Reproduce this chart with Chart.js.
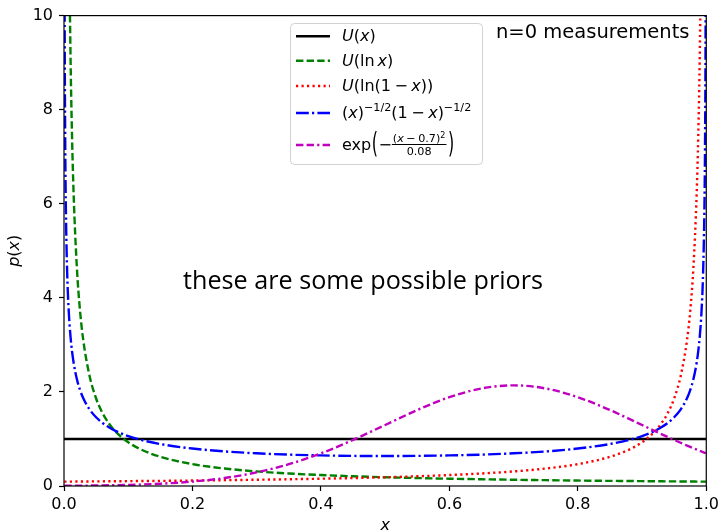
<!DOCTYPE html>
<html>
<head>
<meta charset="utf-8">
<script src="https://cdn.jsdelivr.net/npm/chart.js@4.4.1/dist/chart.umd.min.js"></script>
<style>
  html, body { margin: 0; padding: 0; background: #fff; }
  canvas { display: block; }
</style>
</head>
<body>
<canvas id="priorChart" width="723" height="531"></canvas>
<script>
// x positions shared by the curved priors (denser near the ends)
const xs = [0.0005, 0.001, 0.002, 0.003, 0.005, 0.0075, 0.01, 0.0125, 0.015, 0.02, 0.025, 0.03,
  0.04, 0.05, 0.06, 0.07, 0.08, 0.1, 0.12, 0.15, 0.2, 0.25, 0.3, 0.35, 0.4, 0.45, 0.5,
  0.55, 0.6, 0.65, 0.7, 0.75, 0.8, 0.85, 0.88, 0.9, 0.92, 0.93, 0.94, 0.95, 0.96, 0.97,
  0.975, 0.98, 0.985, 0.9875, 0.99, 0.9925, 0.995, 0.997, 0.998, 0.999, 0.9995];

const uniformX = [0, 1];
const uniformY = [1, 1];

const lnxY = [186, 93, 46.5, 31, 18.6, 12.4, 9.3, 7.44, 6.2, 4.65, 3.72, 3.1,
  2.33, 1.86, 1.55, 1.33, 1.16, 0.93, 0.775, 0.62, 0.465, 0.372, 0.31, 0.266, 0.233, 0.207, 0.186,
  0.169, 0.155, 0.143, 0.133, 0.124, 0.116, 0.109, 0.106, 0.103, 0.101, 0.1, 0.099, 0.098, 0.097, 0.096,
  0.095, 0.095, 0.094, 0.094, 0.094, 0.094, 0.093, 0.093, 0.093, 0.093, 0.093];

const ln1mxY = [0.093, 0.093, 0.093, 0.093, 0.093, 0.094, 0.094, 0.094, 0.094, 0.095, 0.095, 0.096,
  0.097, 0.098, 0.099, 0.1, 0.101, 0.103, 0.106, 0.109, 0.116, 0.124, 0.133, 0.143, 0.155, 0.169, 0.186,
  0.207, 0.233, 0.266, 0.31, 0.372, 0.465, 0.62, 0.775, 0.93, 1.16, 1.33, 1.55, 1.86, 2.33, 3.1,
  3.72, 4.65, 6.2, 7.44, 9.3, 12.4, 18.6, 31, 46.5, 93, 186];

const arcsineY = [14.24, 10.07, 7.125, 5.82, 4.513, 3.689, 3.199, 2.865, 2.619, 2.274, 2.039, 1.866,
  1.624, 1.461, 1.34, 1.248, 1.173, 1.061, 0.98, 0.892, 0.796, 0.735, 0.695, 0.667, 0.65, 0.64, 0.637,
  0.64, 0.65, 0.667, 0.695, 0.735, 0.796, 0.892, 0.98, 1.061, 1.173, 1.248, 1.34, 1.461, 1.624, 1.866,
  2.039, 2.274, 2.619, 2.865, 3.199, 3.689, 4.513, 5.82, 7.125, 10.07, 14.24];

const gaussY = [0.0047, 0.0048, 0.0049, 0.0049, 0.0051, 0.0053, 0.0056, 0.0058, 0.0061, 0.0066, 0.0072, 0.0078,
  0.0092, 0.0109, 0.0128, 0.015, 0.0175, 0.0238, 0.0319, 0.0487, 0.094, 0.17, 0.29, 0.463, 0.694, 0.979, 1.297,
  1.615, 1.888, 2.073, 2.139, 2.073, 1.888, 1.615, 1.427, 1.297, 1.168, 1.104, 1.041, 0.979, 0.919, 0.86,
  0.831, 0.803, 0.775, 0.761, 0.748, 0.734, 0.721, 0.71, 0.705, 0.7, 0.697];

const xTicks = [0, 0.2, 0.4, 0.6, 0.8, 1.0];
const yTicks = [0, 2, 4, 6, 8, 10];

const FONT = '"DejaVu Sans", sans-serif';
const MINUS = '\u2212';
const LW = 2.4;

function pts(xv, yv) {
  return xv.map((x, i) => ({ x: x, y: yv[i] }));
}

function fontOf(p) {
  return (p.it ? 'italic ' : '') + (p.size || 16) + 'px ' + FONT;
}

function runsWidth(ctx, parts) {
  let w = 0;
  for (const p of parts) {
    if (p.gap) { w += p.gap; continue; }
    ctx.font = fontOf(p);
    w += ctx.measureText(p.t).width;
  }
  return w;
}

function drawRuns(ctx, x, y, parts) {
  for (const p of parts) {
    if (p.gap) { x += p.gap; continue; }
    ctx.font = fontOf(p);
    ctx.fillText(p.t, x, y + (p.dy || 0));
    x += ctx.measureText(p.t).width;
  }
  return x;
}

// tall thin delimiter: a normal paren stretched vertically
function bigParen(ctx, ch, x, top) {
  ctx.save();
  ctx.font = '16px ' + FONT;
  const w = ctx.measureText(ch).width;
  ctx.translate(x, top);
  ctx.scale(1, 1.75);
  ctx.fillText(ch, 0, 12.15);
  ctx.restore();
  return x + w;
}

const sup = { t: MINUS + '1/2', size: 11.2, dy: -7 };

const legendRows = [
  { color: '#000000', dash: [], lineY: 36.3, base: 41,
    parts: [{ t: 'U', it: 1 }, { t: '(' }, { t: 'x', it: 1 }, { t: ')' }] },
  { color: '#008000', dash: [7.4, 3.2], lineY: 60.7, base: 65.5,
    parts: [{ t: 'U', it: 1 }, { t: '(ln' }, { gap: 3 }, { t: 'x', it: 1 }, { t: ')' }] },
  { color: '#ff0000', dash: [2.2, 3.3], lineY: 86, base: 90.5,
    parts: [{ t: 'U', it: 1 }, { t: '(ln(1' }, { gap: 3.5 }, { t: MINUS }, { gap: 3.5 }, { t: 'x', it: 1 }, { t: '))' }] },
  { color: '#0000ff', dash: [12.8, 3.2, 2.2, 3.2], lineY: 113, base: 118,
    parts: [{ t: '(' }, { t: 'x', it: 1 }, { t: ')' }, sup, { t: '(1' }, { gap: 3.5 }, { t: MINUS }, { gap: 3.5 },
      { t: 'x', it: 1 }, { t: ')' }, sup] },
  { color: '#bf00bf', dash: [7.4, 3.2, 7.4, 3.2, 2.2, 3.2], lineY: 145, base: 149.5, parts: null }
];

function drawGaussLabel(ctx, x, base) {
  x = drawRuns(ctx, x, base, [{ t: 'exp' }]);
  x = bigParen(ctx, '(', x + 0.5, 132);
  x = drawRuns(ctx, x + 0.5, base, [{ t: MINUS }]);
  const bar = base - 5;
  const num = [{ t: '(', size: 11.2 }, { t: 'x', it: 1, size: 11.2 }, { gap: 2.5 }, { t: MINUS, size: 11.2 }, { gap: 2.5 },
    { t: '0.7)', size: 11.2 }, { t: '2', size: 8, dy: -4 }];
  const den = [{ t: '0.08', size: 11.2 }];
  const nw = runsWidth(ctx, num), dw = runsWidth(ctx, den);
  const fw = Math.max(nw, dw) + 2;
  drawRuns(ctx, x + (fw - nw) / 2, bar - 3, num);
  drawRuns(ctx, x + (fw - dw) / 2, bar + 10.7, den);
  ctx.fillRect(x, bar - 0.5, fw, 1);
  bigParen(ctx, ')', x + fw + 1.5, 132);
}

const overlay = {
  id: 'overlay',
  afterDatasetsDraw(chart) {
    const ctx = chart.ctx, a = chart.chartArea;
    ctx.save();
    ctx.strokeStyle = '#000';
    ctx.lineWidth = 1.2;
    ctx.strokeRect(a.left, a.top, a.right - a.left, a.bottom - a.top);
    ctx.restore();
  },
  afterDraw(chart) {
    const ctx = chart.ctx, a = chart.chartArea;
    ctx.save();
    ctx.fillStyle = '#000';
    ctx.textBaseline = 'alphabetic';

    // axis titles
    const xt = [{ t: 'x', it: 1 }];
    drawRuns(ctx, (a.left + a.right) / 2 - runsWidth(ctx, xt) / 2, 529.5, xt);
    const yt = [{ t: 'p', it: 1 }, { t: '(' }, { t: 'x', it: 1 }, { t: ')' }];
    ctx.save();
    ctx.translate(19, (a.top + a.bottom) / 2);
    ctx.rotate(-Math.PI / 2);
    drawRuns(ctx, -runsWidth(ctx, yt) / 2, 0, yt);
    ctx.restore();

    // annotations
    ctx.font = '19.5px ' + FONT;
    ctx.fillText('n=0 measurements', 496, 38);
    const msg = 'these are some possible priors';
    ctx.font = '24px "Open Sans", sans-serif';
    const size = 24 * 360 / ctx.measureText(msg).width;
    ctx.font = size.toFixed(2) + 'px "Open Sans", sans-serif';
    ctx.textAlign = 'center';
    ctx.fillText(msg, 363, 289);
    ctx.textAlign = 'left';

    // legend box
    ctx.beginPath();
    ctx.roundRect(290.5, 23.5, 192, 141, 4);
    ctx.fillStyle = 'rgba(255,255,255,0.8)';
    ctx.fill();
    ctx.strokeStyle = 'rgba(204,204,204,0.9)';
    ctx.lineWidth = 1;
    ctx.stroke();

    for (const r of legendRows) {
      ctx.beginPath();
      ctx.strokeStyle = r.color;
      ctx.lineWidth = LW;
      ctx.setLineDash(r.dash);
      ctx.moveTo(296, r.lineY);
      ctx.lineTo(330, r.lineY);
      ctx.stroke();
      ctx.setLineDash([]);
      ctx.fillStyle = '#000';
      if (r.parts) drawRuns(ctx, 342, r.base, r.parts);
      else drawGaussLabel(ctx, 342, r.base);
    }
    ctx.restore();
  }
};

const lineBase = { pointRadius: 0, borderWidth: LW, cubicInterpolationMode: 'monotone', fill: false };

new Chart(document.getElementById('priorChart'), {
  type: 'line',
  data: {
    datasets: [
      Object.assign({ label: 'U(x)', data: pts(uniformX, uniformY), borderColor: '#000000', order: 5 }, lineBase),
      Object.assign({ label: 'U(ln x)', data: pts(xs, lnxY), borderColor: '#008000', borderDash: [7.4, 3.2], order: 4 }, lineBase),
      Object.assign({ label: 'U(ln(1-x))', data: pts(xs, ln1mxY), borderColor: '#ff0000', borderDash: [2.2, 3.3], order: 3 }, lineBase),
      Object.assign({ label: 'arcsine', data: pts(xs, arcsineY), borderColor: '#0000ff', borderDash: [12.8, 3.2, 2.2, 3.2], order: 2 }, lineBase),
      Object.assign({ label: 'gauss', data: pts(xs, gaussY), borderColor: '#bf00bf', borderDash: [7.4, 3.2, 7.4, 3.2, 2.2, 3.2], order: 1 }, lineBase)
    ]
  },
  options: {
    responsive: false,
    animation: false,
    devicePixelRatio: 1,
    layout: { padding: { left: 0, top: 14, right: 14, bottom: 0 } },
    plugins: { legend: { display: false }, tooltip: { enabled: false } },
    scales: {
      x: {
        type: 'linear', min: 0, max: 1,
        afterBuildTicks: s => { s.ticks = xTicks.map(v => ({ value: v })); },
        afterFit: s => { s.height = 45; },
        ticks: { color: '#000', font: { family: FONT, size: 16 }, padding: 4, maxRotation: 0,
          callback: v => v.toFixed(1) },
        grid: { drawOnChartArea: false, drawTicks: true, tickLength: 5, tickWidth: 1.2, tickColor: '#000' },
        border: { display: false }
      },
      y: {
        type: 'linear', min: 0, max: 10,
        afterBuildTicks: s => { s.ticks = yTicks.map(v => ({ value: v })); },
        afterFit: s => { s.width = 64; },
        ticks: { color: '#000', font: { family: FONT, size: 16 }, padding: 6,
          callback: v => String(v) },
        grid: { drawOnChartArea: false, drawTicks: true, tickLength: 5, tickWidth: 1.2, tickColor: '#000' },
        border: { display: false }
      }
    }
  },
  plugins: [overlay]
});
</script>
</body>
</html>
